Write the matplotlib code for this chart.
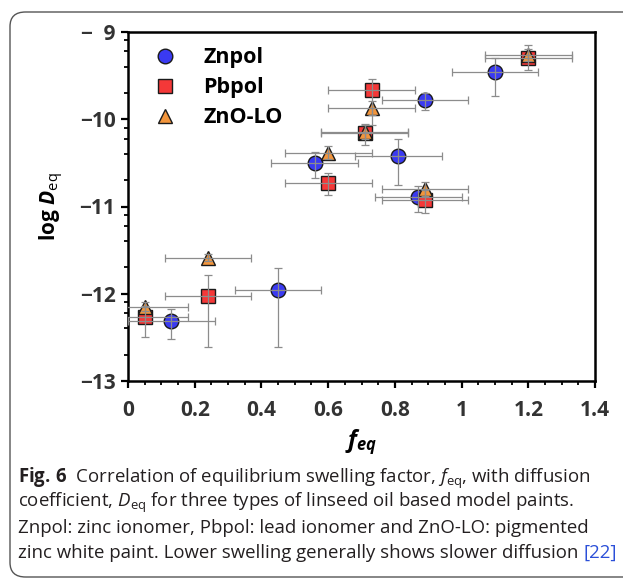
import matplotlib
matplotlib.use("Agg")
import matplotlib.pyplot as plt
from matplotlib.patches import FancyBboxPatch
from matplotlib.ticker import FixedLocator, MultipleLocator
import numpy as np

plt.rcParams['font.family'] = ['Open Sans', 'DejaVu Sans']
plt.rcParams['mathtext.fontset'] = 'custom'
plt.rcParams['mathtext.rm'] = 'Open Sans'
plt.rcParams['mathtext.it'] = 'Open Sans:italic'
plt.rcParams['mathtext.bf'] = 'Open Sans:bold'
plt.rcParams['mathtext.bfit'] = 'Open Sans:italic:bold'

# Znpol
zn_f = [0.13, 0.45, 0.56, 0.81, 0.87, 0.89, 1.10]
zn_d = [-12.31, -11.96, -10.50, -10.42, -10.89, -9.78, -9.46]
zn_xerr = [0.13, 0.13, 0.13, 0.13, 0.13, 0.13, 0.13]
zn_lo = [0.21, 0.65, 0.17, 0.33, 0.17, 0.11, 0.27]
zn_hi = [0.14, 0.25, 0.12, 0.19, 0.12, 0.08, 0.16]

# Pbpol
pb_f = [0.05, 0.24, 0.60, 0.71, 0.73, 0.89, 1.20]
pb_d = [-12.27, -12.03, -10.73, -10.16, -9.67, -10.93, -9.30]
pb_xerr = [0.13, 0.13, 0.13, 0.13, 0.13, 0.13, 0.13]
pb_lo = [0.22, 0.58, 0.14, 0.14, 0.40, 0.15, 0.14]
pb_hi = [0.13, 0.24, 0.11, 0.11, 0.13, 0.12, 0.10]

# ZnO-LO
lo_f = [0.05, 0.24, 0.60, 0.71, 0.73, 0.89, 1.20]
lo_d = [-12.15, -11.59, -10.39, -10.15, -9.875, -10.80, -9.26]
lo_xerr = [0.13, 0.13, 0.13, 0.13, 0.13, 0.13, 0.13]
lo_lo = [0.05, 0.04, 0.07, 0.08, 0.08, 0.08, 0.07]
lo_hi = [0.05, 0.04, 0.08, 0.08, 0.08, 0.08, 0.11]

series = [
    ('Znpol', zn_f, zn_d, zn_xerr, zn_lo, zn_hi, 'o', '#3a3af2', 10.5),
    ('Pbpol', pb_f, pb_d, pb_xerr, pb_lo, pb_hi, 's', '#f43838', 9.5),
    ('ZnO-LO', lo_f, lo_d, lo_xerr, lo_lo, lo_hi, '^', '#f2953c', 10.5),
]

fig = plt.figure(figsize=(6.23, 5.8), dpi=100)
ax = fig.add_axes([128 / 623, 1 - 381 / 580, (595 - 128) / 623, (381 - 32) / 580])

for i, (name, f, d, xe, elo, ehi, mk, col, ms) in enumerate(series):
    ax.plot(f, d, linestyle='none', marker=mk, markersize=ms, markerfacecolor=col,
            markeredgecolor='#1a1a1a', markeredgewidth=1.0, label=name, zorder=2 + i * 0.1)
    ax.errorbar(f, d, xerr=xe, yerr=[elo, ehi], fmt='none', ecolor='#8c8c8c',
                elinewidth=0.9, capsize=3.2, capthick=0.9, zorder=3)

ax.set_xlim(0, 1.4)
ax.set_ylim(-13, -9)
ax.xaxis.set_minor_locator(MultipleLocator(0.05))
ax.set_yticks([-13, -12, -11, -10, -9])
ax.set_yticklabels(['\u221213', '\u221212', '\u221211', '\u221210', '\u2212  9'])
ax.set_xticks([0, 0.2, 0.4, 0.6, 0.8, 1.0, 1.2, 1.4])
ax.set_xticklabels(['0', '0.2', '0.4', '0.6', '0.8', '1', '1.2', '1.4'])
minor_y = [m + np.log10(k) for m in range(-13, -9) for k in (2, 4, 6, 8)]
ax.yaxis.set_minor_locator(FixedLocator(minor_y))

for s in ax.spines.values():
    s.set_linewidth(1.8)
ax.tick_params(which='major', direction='out', length=5, width=1.6, labelsize=15,
               labelcolor='#333333', pad=4)
ax.tick_params(which='minor', direction='out', length=3, width=1.3)
ax.tick_params(axis='x', pad=9)
for lab in ax.get_xticklabels() + ax.get_yticklabels():
    lab.set_fontweight('bold')

ax.set_ylabel(r'log $\mathbfit{D}_{\mathrm{eq}}$', fontsize=15, fontweight='bold', labelpad=10)
ax.set_xlabel(r'$\mathbfit{f}_{\mathbfit{eq}}$', fontsize=17, labelpad=4)

leg = ax.legend(loc='upper left', frameon=False, prop={'weight': 'bold', 'size': 15.5},
                handletextpad=0.8, labelspacing=0.42, borderaxespad=0.3,
                bbox_to_anchor=(0.0, 1.0))

# caption
cap_lines = [
    r'$\mathbf{Fig.\,6}$  Correlation of equilibrium swelling factor, $\mathit{f}_{\mathrm{eq}}$, with diffusion',
    r'coefficient, $\mathit{D}_{\mathrm{eq}}$ for three types of linseed oil based model paints.',
    'Znpol: zinc ionomer, Pbpol: lead ionomer and ZnO-LO: pigmented',
    'zinc white paint. Lower swelling generally shows slower diffusion ',
]
cap_y = [478, 503, 528, 553]
texts = []
for line, y in zip(cap_lines, cap_y):
    t = fig.text(18 / 623, 1 - y / 580, line, fontsize=13.4, color='#231f20',
                 ha='left', va='center')
    texts.append(t)
renderer = fig.canvas.get_renderer()
bb = texts[-1].get_window_extent(renderer)
fig.text(bb.x1 / fig.bbox.width, 1 - cap_y[-1] / 580, '[22]', fontsize=13.4,
         color='#2b4fd8', ha='left', va='center')

frame = FancyBboxPatch((10 / 623, 1 - 577 / 580), 1.2, (577 - 12) / 580,
                       boxstyle='round,pad=0,rounding_size=0.025',
                       transform=fig.transFigure, facecolor='none',
                       edgecolor='#555555', linewidth=1.0, clip_on=False)
fig.patches.append(frame)

fig.savefig('out.png', dpi=100)
